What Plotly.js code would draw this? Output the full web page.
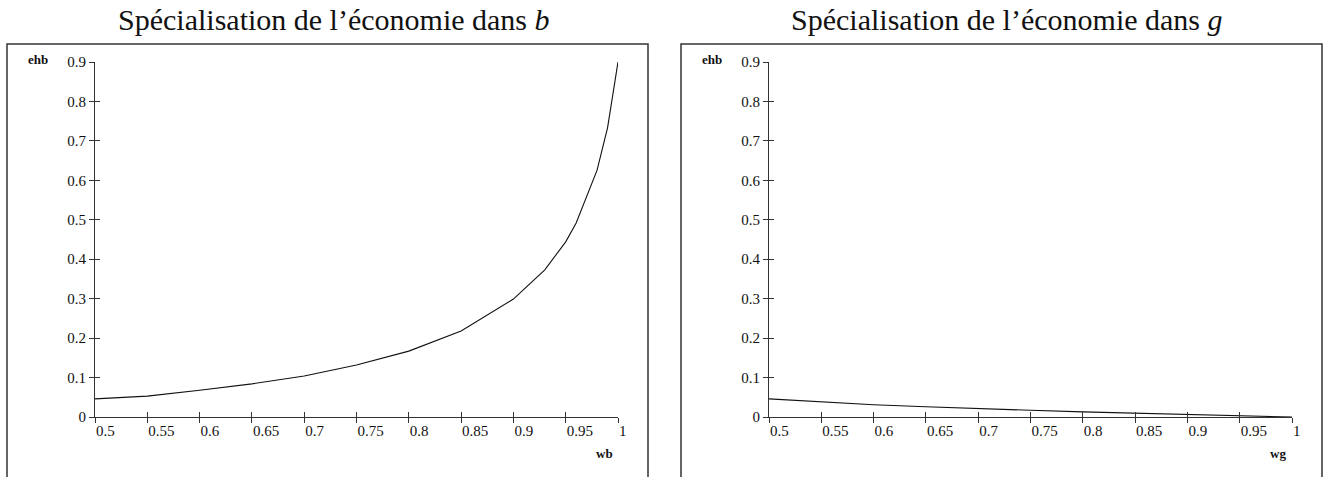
<!DOCTYPE html>
<html>
<head>
<meta charset="utf-8">
<script src="https://cdn.plot.ly/plotly-3.0.1.min.js"></script>
<style>html,body{margin:0;padding:0;background:#fff;}#chart{width:1330px;height:477px;}</style>
</head>
<body>
<div id="chart"></div>
<script>
// ---- data ----
const wb = [0.5, 0.55, 0.6, 0.65, 0.7, 0.75, 0.8, 0.85, 0.9, 0.93, 0.95, 0.96, 0.98, 0.99, 1.0];
const ehbB = [0.046, 0.053, 0.068, 0.084, 0.104, 0.132, 0.167, 0.218, 0.299, 0.373, 0.444, 0.492, 0.626, 0.733, 0.9];
const wg = [0.5, 0.55, 0.6, 0.65, 0.7, 0.75, 0.8, 0.85, 0.9, 0.95, 1.0];
const ehbG = [0.046, 0.039, 0.031, 0.026, 0.021, 0.017, 0.013, 0.0095, 0.0065, 0.0035, 0.0];
const xTicks = [0.5, 0.55, 0.6, 0.65, 0.7, 0.75, 0.8, 0.85, 0.9, 0.95, 1];
const xTickText = ["0.5", "0.55", "0.6", "0.65", "0.7", "0.75", "0.8", "0.85", "0.9", "0.95", "1"];
const yTicks = [0, 0.1, 0.2, 0.3, 0.4, 0.5, 0.6, 0.7, 0.8, 0.9];
const yTickText = ["0", "0.1", "0.2", "0.3", "0.4", "0.5", "0.6", "0.7", "0.8", "0.9"];
const titles = ["Spécialisation de l’économie dans <i>b</i>", "Spécialisation de l’économie dans <i>g</i>"];
const xNames = ["wb", "wg"];
const yName = "ehb";

// ---- layout ----
const W = 1330, H = 477;
const px = v => v / W, py = v => 1 - v / H;
const serif = "Liberation Serif";
const tickFont = {family: serif, size: 15, color: "#111"};
const axColor = "#333";

function xAxis(domain, extra) {
  return Object.assign({
    domain: domain, range: [0.5, 1], tickmode: "array", tickvals: xTicks, ticktext: xTickText,
    ticks: "outside", ticklen: 5, tickwidth: 1, tickcolor: axColor,
    showline: true, linecolor: axColor, linewidth: 1, showgrid: false, zeroline: false,
    tickfont: tickFont, ticklabelposition: "outside right", fixedrange: true
  }, extra || {});
}
function yAxis(extra) {
  return Object.assign({
    domain: [py(417), py(62)], range: [0, 0.9], tickmode: "array", tickvals: yTicks, ticktext: yTickText,
    ticks: "outside", ticklen: 5, tickwidth: 1, tickcolor: axColor,
    showline: true, linecolor: axColor, linewidth: 1, showgrid: false, zeroline: false,
    tickfont: tickFont, fixedrange: true
  }, extra || {});
}
const dL = [px(95), px(618)], dR = [px(769), px(1292)];
const overlayX = {ticks: "inside", showticklabels: false, showline: false};
const overlayY = {ticks: "inside", showticklabels: false, showline: false};

const traces = [
  {x: wb, y: ehbB, xaxis: "x", yaxis: "y", mode: "lines", line: {color: "#111", width: 1.1}, hoverinfo: "skip"},
  {x: wg, y: ehbG, xaxis: "x2", yaxis: "y2", mode: "lines", line: {color: "#111", width: 1.1}, hoverinfo: "skip"},
  {x: wb, y: ehbB, xaxis: "x3", yaxis: "y3", mode: "lines", opacity: 0, hoverinfo: "skip"},
  {x: wg, y: ehbG, xaxis: "x4", yaxis: "y4", mode: "lines", opacity: 0, hoverinfo: "skip"}
];

const layout = {
  width: W, height: H, margin: {l: 0, r: 0, t: 0, b: 0},
  font: {family: serif, color: "#111"},
  paper_bgcolor: "#fff", plot_bgcolor: "rgba(0,0,0,0)", showlegend: false,
  xaxis: xAxis(dL, {anchor: "y"}),
  yaxis: yAxis({anchor: "x"}),
  xaxis2: xAxis(dR, {anchor: "y2"}),
  yaxis2: yAxis({anchor: "x2"}),
  xaxis3: xAxis(dL, Object.assign({anchor: "y3", overlaying: "x"}, overlayX)),
  yaxis3: yAxis(Object.assign({anchor: "x3", overlaying: "y"}, overlayY)),
  xaxis4: xAxis(dR, Object.assign({anchor: "y4", overlaying: "x2"}, overlayX)),
  yaxis4: yAxis(Object.assign({anchor: "x4", overlaying: "y2"}, overlayY)),
  shapes: [
    {type: "rect", xref: "paper", yref: "paper", x0: px(7), x1: px(648), y0: -0.2, y1: py(44), line: {color: "#333", width: 1.5}},
    {type: "rect", xref: "paper", yref: "paper", x0: px(681), x1: px(1322), y0: -0.2, y1: py(44), line: {color: "#333", width: 1.5}}
  ],
  annotations: [
    {text: titles[0], xref: "paper", yref: "paper", x: px(334), y: py(19), xanchor: "center", yanchor: "middle", showarrow: false, font: {family: serif, size: 30, color: "#111"}},
    {text: titles[1], xref: "paper", yref: "paper", x: px(1007), y: py(19), xanchor: "center", yanchor: "middle", showarrow: false, font: {family: serif, size: 30, color: "#111"}},
    {text: "<b>" + yName + "</b>", xref: "paper", yref: "paper", x: px(38), y: py(59), xanchor: "center", yanchor: "middle", showarrow: false, font: {family: serif, size: 13, color: "#111"}},
    {text: "<b>" + yName + "</b>", xref: "paper", yref: "paper", x: px(712), y: py(59), xanchor: "center", yanchor: "middle", showarrow: false, font: {family: serif, size: 13, color: "#111"}},
    {text: "<b>" + xNames[0] + "</b>", xref: "paper", yref: "paper", x: px(604), y: py(453), xanchor: "center", yanchor: "middle", showarrow: false, font: {family: serif, size: 13, color: "#111"}},
    {text: "<b>" + xNames[1] + "</b>", xref: "paper", yref: "paper", x: px(1278), y: py(453), xanchor: "center", yanchor: "middle", showarrow: false, font: {family: serif, size: 13, color: "#111"}}
  ]
};

Plotly.newPlot("chart", traces, layout, {displayModeBar: false, staticPlot: true});
</script>
</body>
</html>
